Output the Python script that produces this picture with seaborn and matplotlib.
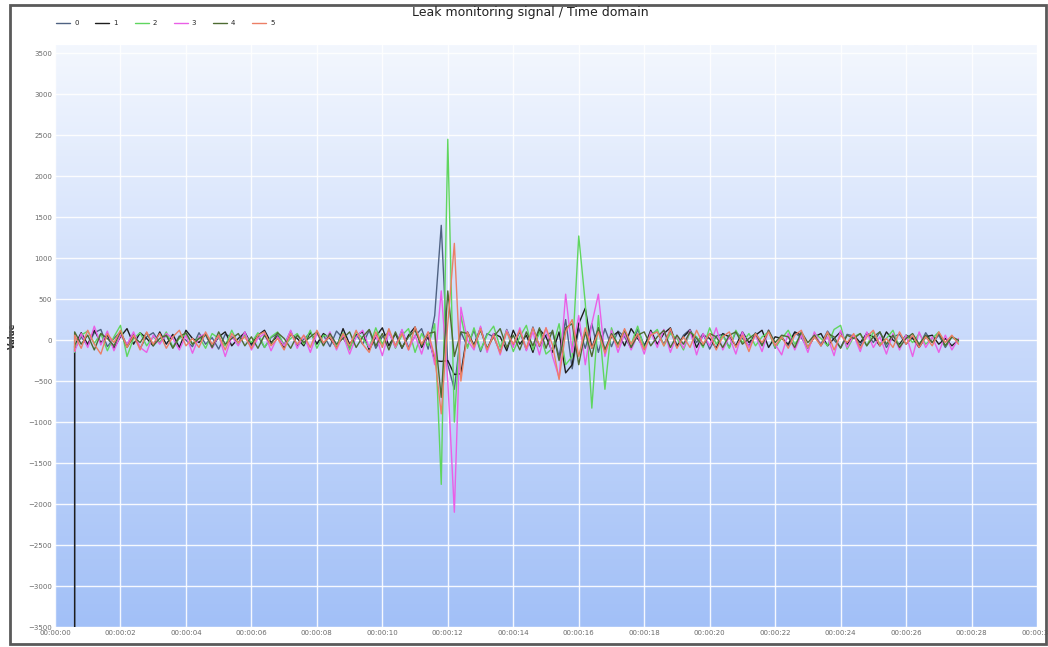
import numpy as np
import pandas as pd
import seaborn as sns
import matplotlib.pyplot as plt
from matplotlib.colors import LinearSegmentedColormap
from matplotlib.patches import Rectangle

# sampling: one sample every 0.2 s, the first (settling) reading shares
# the timestamp of the second one
t_start = 0.4
t_step = 0.2

# sensor signals, 10 samples per row
s0 = [-4000, -110, 40, -70, 90, 130, -80, 20, 100, -60,
      70, -100, 40, 90, -30, 60, -90, 50, 0, -80,
      90, -50, 30, -110, 70, 40, -30, 100, -70, 50,
      -90, 30, 80, -60, 110, -70, 10, 90, -40, 60,
      -80, 110, 20, -90, 70, -50, 120, -100, 40, 90,
      -70, 120, -90, 50, 140, -110, 300, 1400, -300, -600,
      100, -80, 120, -140, 80, 40, -150, 130, -60, 100,
      -120, 160, -80, 60, 100, -200, 250, -350, 150, -100,
      200, -150, 140, -80, 110, 40, -100, 130, -60, 80,
      100, -50, 120, -90, 60, 130, -30, 80, -110, 50,
      70, -90, 100, 20, -70, 90, -50, 120, -100, 40,
      -70, 90, 30, -100, 60, -50, 110, 0, -90, 70,
      50, -70, 90, -30, 100, -90, 40, 70, -50, 30,
      -70, 90, -30, 60, -90, 40, -20]
s1 = [-4000, -70, 90, -50, 120, -30, 60, -100, 40, 140,
      -50, 90, 20, -70, 100, -50, 70, -90, 120, 20,
      -30, 70, -90, 40, 100, -70, 20, 90, -50, 60,
      120, -30, 50, -90, 70, 20, -70, 100, -50, 80,
      20, -90, 140, -50, 60, 100, -120, 40, 150, -70,
      80, -100, 60, 160, -90, 40, -250, -260, -250, -420,
      -410, 100, -60, 150, -120, 80, 40, -130, 120, -50,
      60, -150, 130, 40, -150, 100, -400, -300, 200, 390,
      -100, 150, -120, 40, 100, -70, 140, 20, -90, 120,
      -50, 80, 150, -70, 40, 120, -90, 60, 20, -100,
      80, 40, -70, 100, -30, 60, 120, -90, 40, 20,
      -50, 100, 60, -90, 40, 80, -70, 20, 100, -50,
      60, -30, 80, 40, -70, 100, 0, -50, 60, 20,
      -90, 40, 60, -50, 20, -70, 0]
s2 = [-150, -90, 60, 110, -40, 80, -130, 40, 180, -200,
      20, 90, -70, 40, -30, 100, -90, 20, 70, -50,
      40, -100, 80, 20, -70, 120, -50, 60, -30, 90,
      -90, 40, 100, -70, 20, 80, -50, 120, -100, 60,
      40, -70, 90, -120, 100, 20, -90, 150, -50, 120,
      -100, 60, 140, -150, 80, -70, 200, -1760, 2450, -1000,
      300, -100, 150, -120, 60, 170, -90, 120, -140, 40,
      180, -120, 100, -170, -100, 200, -300, -200, 1270, 450,
      -830, 300, -600, 150, -80, 120, -50, 170, -100, 60,
      130, -70, 80, 20, -120, 100, 40, -90, 150, -50,
      60, -100, 120, -30, 80, -70, 40, 100, -90, 20,
      120, -50, 60, -100, 80, 20, -70, 130, 180, -110,
      40, 80, -70, 100, -50, 20, 120, -90, 60, -30,
      80, -50, 20, 100, -70, 40, -20]
s3 = [-110, -140, 80, -90, 170, -60, 110, -130, 60, -50,
      100, -90, -150, 60, -50, 80, 20, -120, 60, -160,
      40, 80, -100, 60, -200, 40, -70, 100, -120, 20,
      80, -130, 40, -70, 120, -100, 60, -150, 80, -50,
      100, -120, 60, -170, 40, 120, -90, 60, -190, 100,
      -90, 130, -120, 60, -170, 100, -300, 600, -500, -2100,
      400, 0, -120, 170, -150, 80, -180, 120, -90, 150,
      -130, 100, -180, 150, -200, -460, 560, -150, 300, -300,
      200, 560, -200, 120, -150, 80, -120, 60, -170, 100,
      -90, 130, -150, 60, -100, 120, -180, 80, -70, 150,
      -120, 40, -170, 100, -90, 60, -140, 120, -50, -180,
      80, -120, 60, -150, 100, -70, 40, -190, 120, -90,
      60, -140, 100, -90, 40, -170, 80, -120, 60, -200,
      100, -90, 40, -150, 60, -120, 20]
s4 = [-90, 100, -50, 60, -120, 80, 20, -70, 100, -90,
      40, -30, 90, -70, 20, 60, -100, 40, 90, -50,
      20, 70, -90, 100, -50, 20, 80, -70, 40, -100,
      60, -50, 90, 20, -100, 60, -30, 40, 100, -70,
      80, -50, 20, 100, -90, 40, 130, -70, 80, -120,
      100, -90, 40, 120, -70, 80, 100, -700, 600, -200,
      100, 80, -70, 120, -100, 40, 140, -90, 60, -120,
      100, -70, 150, -100, 120, -250, 150, 200, -300, 100,
      -200, 150, -120, 80, -50, 120, -90, 60, 100, -70,
      40, 120, -90, 60, -50, 100, 20, -70, 80, 40,
      -90, 60, 100, -50, 20, 80, -70, 120, -30, 60,
      40, -90, 100, -30, 60, -70, 80, 40, -100, 60,
      20, 80, -70, 40, 100, -50, 60, -90, 20, 80,
      -50, 60, -30, 80, -70, 40, 0]
s5 = [-130, 60, -100, 120, -50, -170, 80, -30, 120, -90,
      60, -120, 100, -50, 80, -100, 40, 120, -70, 20,
      -90, 100, -50, 60, -120, 80, -30, 40, -100, 60,
      100, -70, 20, -120, 80, -50, 60, -90, 120, -30,
      40, -100, 80, -70, 120, -50, -150, 100, -90, 140,
      -70, 80, -120, 160, -50, 100, -200, -900, 200, 1180,
      -500, 100, -90, 140, -120, 60, -160, 100, -50, 120,
      -100, 150, -70, 150, -60, -480, 100, 250, -200, 150,
      -100, 100, -160, 60, -90, 140, -50, 80, -120, 60,
      100, -70, 140, -100, 40, -90, 120, -50, 80, -120,
      40, 100, -90, 60, -140, 80, -30, 100, -70, 40,
      -100, 60, 120, -90, 40, -70, 100, -120, 60, -30,
      80, -100, 40, 120, -70, 20, -90, 100, -50, 60,
      -90, 40, -70, 100, -30, 60, -50]

sensors = ["0", "1", "2", "3", "4", "5"]
signals = [s0, s1, s2, s3, s4, s5]
colors = ["#4f6282", "#1e1e1e", "#5fd65f", "#ea5fe6", "#4d6b32", "#ec7f66"]

x_ticks = list(range(0, 32, 2))
x_labels = ["00:00:%02d" % s for s in x_ticks]
y_ticks = list(range(-3500, 4000, 500))

rows = []
for name, sig in zip(sensors, signals):
    for i, v in enumerate(sig):
        t = t_start + t_step * max(i, 1)
        rows.append((t, i, v, name))
df = pd.DataFrame(rows, columns=["time", "sample", "value", "sensor"])

sns.set_style("white")
plt.rcParams['font.family'] = ['DejaVu Sans']

fig = plt.figure(figsize=(10.48, 6.47), dpi=100)
ax = fig.add_axes([55 / 1048, 20 / 647, 982 / 1048, 582 / 647])

# vertical gradient behind the plot
grad = LinearSegmentedColormap.from_list("bg", ["#f3f7fe", "#c9dafb", "#a2c0f7"])
ax.imshow(np.linspace(0, 1, 256).reshape(-1, 1), cmap=grad, aspect="auto",
          extent=[0, 30, -3500, 3600], zorder=0.1, origin="upper")

sns.lineplot(data=df, x="time", y="value", hue="sensor", palette=colors,
             units="sensor", estimator=None, sort=False, linewidth=1.0,
             ax=ax, zorder=2)

ax.set_xlim(0, 30)
ax.set_ylim(-3500, 3600)
ax.set_xticks(x_ticks)
ax.set_xticklabels(x_labels)
ax.set_yticks(y_ticks)
ax.set_axisbelow(True)
ax.grid(True, color="white", linewidth=1.0, alpha=0.9)
ax.tick_params(length=0, labelsize=5, labelcolor="#6a6a6a", pad=2)
for sp in ax.spines.values():
    sp.set_visible(False)

ax.set_xlabel("")
ax.set_ylabel("Value", fontsize=6, fontweight="bold")
ax.yaxis.set_label_coords(-0.039, 0.5)

ax.legend(loc="center left", bbox_to_anchor=(50 / 1048, 1 - 23 / 647),
          bbox_transform=fig.transFigure, ncol=6, frameon=False, fontsize=5,
          handlelength=2.0, handletextpad=0.6, columnspacing=2.4)

fig.text(0.506, 0.981, "Leak monitoring signal / Time domain",
         ha="center", va="center", fontsize=9, color="#222222")

fig.patches.append(Rectangle((10 / 1048, 3 / 647), 1036 / 1048, 639 / 647,
                             transform=fig.transFigure, fill=False,
                             edgecolor="#5a5a5a", linewidth=2))

fig.savefig("out.png", dpi=100)
